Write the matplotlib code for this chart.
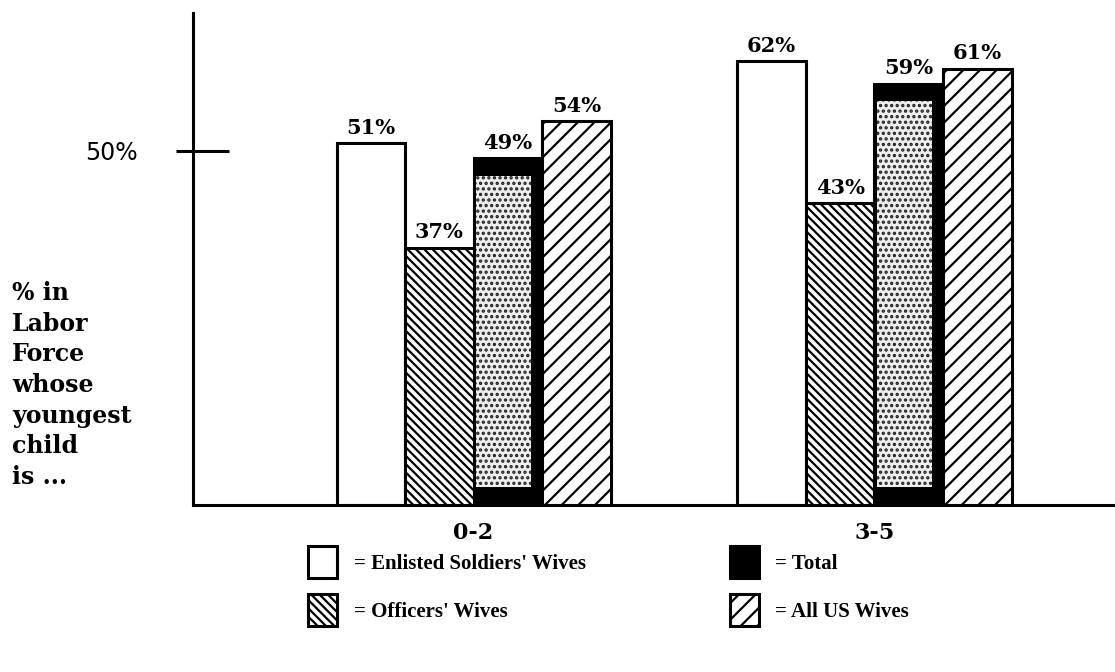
import matplotlib
matplotlib.use("Agg")
import matplotlib.pyplot as plt
import numpy as np

# ---- data ----
groups = ["0-2", "3-5"]
series_names = ["= Enlisted Soldiers' Wives", "= Officers' Wives", "= Total", "= All US Wives"]
enlisted = [51, 62]
officers = [37, 43]
total = [49, 59]
all_us = [54, 61]
ytick_vals = [50]
ytick_labels = ["50%"]
ylabel_text = "% in\nLabor\nForce\nwhose\nyoungest\nchild\nis ..."

plt.rcParams['hatch.linewidth'] = 1.6

fig = plt.figure(figsize=(11.15, 6.72), dpi=100)
ax = fig.add_axes([193/1115, 1-505/672, 1-193/1115, (505-13)/672])

x = np.arange(len(groups))
w = 0.171
ymin = 2.5
series = [enlisted, officers, total, all_us]
styles = [
    dict(facecolor="white", hatch=None),
    dict(facecolor="white", hatch="\\\\\\\\"),
    dict(facecolor="black", hatch=None),
    dict(facecolor="white", hatch="//"),
]
containers = []
for i, (vals, st) in enumerate(zip(series, styles)):
    pos = x + (i - 1.5) * w
    heights = [v - ymin for v in vals]
    bc = ax.bar(pos, heights, width=w, bottom=ymin, color=st["facecolor"],
                edgecolor="black", linewidth=2.2, hatch=st["hatch"],
                label=series_names[i], zorder=2)
    containers.append(bc)
    ax.bar_label(bc, labels=[f"{v}%" for v in vals], padding=4,
                 fontsize=15, fontweight="bold", family="DejaVu Serif")
    if i == 2:
        # speckled light interior of the "Total" bars
        inner_h = [v - 2.3 - (ymin + 2.4) for v in vals]
        ax.bar(pos - 0.01, inner_h, width=w * 0.8, bottom=ymin + 2.4,
               color="#eeeeee", edgecolor="#222222", linewidth=0,
               hatch="...", zorder=3)

ax.set_xlim(-0.70, 1.60)
ax.set_ylim(ymin, 68.5)
for s in ["top", "right"]:
    ax.spines[s].set_visible(False)
ax.spines["left"].set_linewidth(2.2)
ax.spines["bottom"].set_linewidth(2.2)

ax.set_xticks(x)
ax.set_xticklabels(groups, fontsize=16, fontweight="bold", family="DejaVu Serif")
ax.tick_params(axis="x", length=0, pad=12)

ax.set_yticks(ytick_vals)
ax.set_yticklabels(ytick_labels, fontsize=17, family="DejaVu Sans")
ax.tick_params(axis="y", which="major", direction="in", length=26, width=2.2, pad=40)
ax.yaxis.remove_overlapping_locs = False
ax.set_yticks(ytick_vals, minor=True)
ax.tick_params(axis="y", which="minor", direction="out", length=12, width=2.2)

fig.text(12/1115, 1-385/672, ylabel_text, fontsize=17, fontweight="bold",
         family="DejaVu Serif", va="center", ha="left", linespacing=1.35)

fig.legend(handles=containers, labels=series_names, loc="upper left",
           bbox_to_anchor=(308/1115, 1-546/672), ncol=2, frameon=False,
           prop={"family": "Liberation Serif", "size": 15, "weight": "bold"},
           handlelength=1.4, handleheight=2.0, handletextpad=0.8,
           columnspacing=6.9, labelspacing=0.75, borderpad=0, borderaxespad=0)

fig.savefig("out.png", dpi=100)
